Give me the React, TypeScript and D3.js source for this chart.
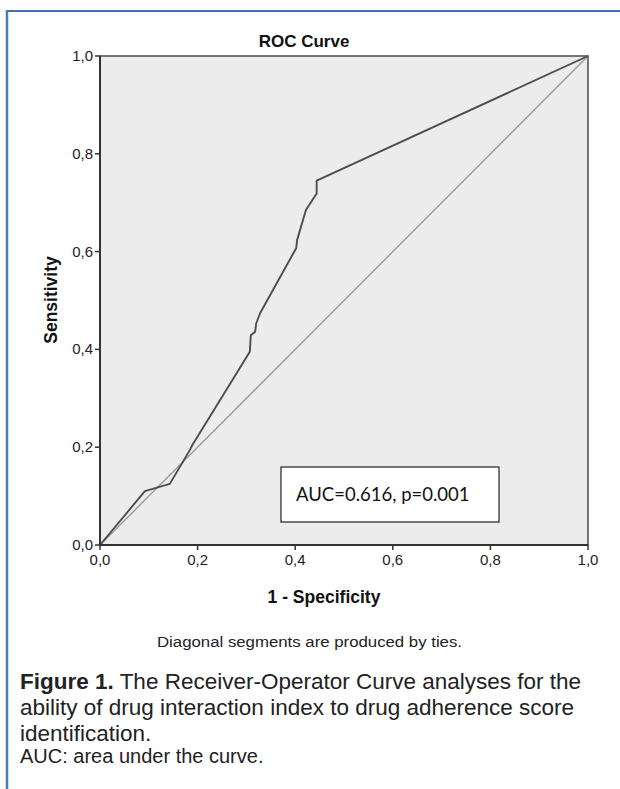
import React from "react";
import * as d3 from "d3";

const fpr = [0, 0.092, 0.143, 0.184, 0.189, 0.307, 0.309, 0.318, 0.32, 0.328, 0.402, 0.404, 0.422, 0.444, 0.444, 1];
const tpr = [0, 0.11, 0.125, 0.194, 0.204, 0.395, 0.429, 0.436, 0.453, 0.474, 0.607, 0.624, 0.685, 0.719, 0.745, 1];
const tickValues = [0, 0.2, 0.4, 0.6, 0.8, 1.0];
const tickLabels = ["0,0", "0,2", "0,4", "0,6", "0,8", "1,0"];

const captionLines = [
  { bold: "Figure 1.", text: " The Receiver-Operator Curve analyses for the" },
  { bold: "", text: "ability of drug interaction index to drug adherence score" },
  { bold: "", text: "identification." },
];

export default function App() {
  const x = d3.scaleLinear().domain([0, 1]).range([100, 588]);
  const y = d3.scaleLinear().domain([0, 1]).range([545, 56]);
  const pts: [number, number][] = fpr.map((f, i) => [f, tpr[i]]);
  const line = d3
    .line<[number, number]>()
    .x((d) => x(d[0]))
    .y((d) => y(d[1]));
  const font = "'Liberation Sans', Arial, sans-serif";

  return (
    <svg
      width={620}
      height={789}
      style={{ position: "absolute", left: 0, top: 0, background: "#fff" }}
      fontFamily={font}
    >
      {/* page frame */}
      <line x1={6} x2={620} y1={11} y2={11} stroke="#3f74ab" strokeWidth={2} />
      <line x1={7} x2={7} y1={10} y2={789} stroke="#4a80b8" strokeWidth={2.5} />

      {/* title */}
      <text x={304} y={47} textAnchor="middle" fontSize={17} fontWeight="bold" fill="#111">
        ROC Curve
      </text>

      {/* plot background */}
      <rect x={x(0)} y={y(1)} width={x(1) - x(0)} height={y(0) - y(1)} fill="#ececec" />

      {/* diagonal */}
      <line x1={x(0)} y1={y(0)} x2={x(1)} y2={y(1)} stroke="#9a9a9a" strokeWidth={1.4} />

      {/* ROC curve */}
      <path d={line(pts) || ""} fill="none" stroke="#4d4d4d" strokeWidth={1.9} strokeLinejoin="round" />

      {/* frame */}
      <rect
        x={x(0)}
        y={y(1)}
        width={x(1) - x(0)}
        height={y(0) - y(1)}
        fill="none"
        stroke="#555"
        strokeWidth={1.6}
      />
      <line x1={x(0)} x2={x(0)} y1={y(1)} y2={y(0)} stroke="#333" strokeWidth={2} />
      <line x1={x(0)} x2={x(1)} y1={y(0)} y2={y(0)} stroke="#333" strokeWidth={2} />

      {/* y ticks */}
      {tickValues.map((v, i) => (
        <g key={"y" + i}>
          <line x1={x(0) - 5} x2={x(0)} y1={y(v)} y2={y(v)} stroke="#333" strokeWidth={1.5} />
          <text x={x(0) - 7} y={y(v) + 5} textAnchor="end" fontSize={15} fill="#222">
            {tickLabels[i]}
          </text>
        </g>
      ))}

      {/* x ticks */}
      {tickValues.map((v, i) => (
        <g key={"x" + i}>
          <line x1={x(v)} x2={x(v)} y1={y(0)} y2={y(0) + 5} stroke="#333" strokeWidth={1.5} />
          <text x={x(v)} y={y(0) + 20} textAnchor="middle" fontSize={15} fill="#222">
            {tickLabels[i]}
          </text>
        </g>
      ))}

      {/* axis titles */}
      <text x={324} y={603} textAnchor="middle" fontSize={17.5} fontWeight="bold" fill="#111">
        1 - Specificity
      </text>
      <text
        transform="translate(57,300) rotate(-90)"
        textAnchor="middle"
        fontSize={17.5}
        fontWeight="bold"
        fill="#111"
      >
        Sensitivity
      </text>

      {/* AUC box */}
      <rect x={281} y={467} width={218} height={55} fill="#fff" stroke="#222" strokeWidth={1.2} />
      <text x={296} y={501} fontSize={18.5} fill="#111" fontFamily="Lato, 'Open Sans', sans-serif">
        AUC=0.616, p=0.001
      </text>

      {/* footnote */}
      <text
        x={157}
        y={647}
        fontSize={15.5}
        fill="#222"
        textLength={305}
        lengthAdjust="spacingAndGlyphs"
      >
        Diagonal segments are produced by ties.
      </text>

      {/* caption */}
      {captionLines.map((l, i) => (
        <text key={"c" + i} x={20} y={689 + i * 26} fontSize={22.5} fill="#222">
          {l.bold && <tspan fontWeight="bold">{l.bold}</tspan>}
          <tspan>{l.text}</tspan>
        </text>
      ))}
      <text x={20} y={763} fontSize={20} fill="#222">
        AUC: area under the curve.
      </text>
    </svg>
  );
}
